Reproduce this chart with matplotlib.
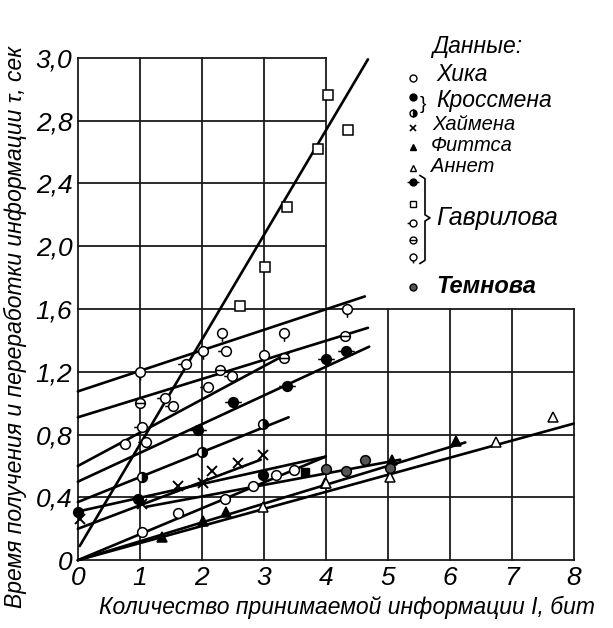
import numpy as np
import matplotlib
matplotlib.use("Agg")
import matplotlib.pyplot as plt
from matplotlib.path import Path

FONT = ['Liberation Sans', 'DejaVu Sans']
plt.rcParams['font.family'] = FONT
plt.rcParams['font.style'] = 'italic'

# ---- data: measured points (x = bits, y = seconds) ----
hick_x = [1.03, 1.62, 2.37, 2.83, 3.20, 3.48]
hick_y = [0.18, 0.30, 0.39, 0.47, 0.54, 0.575]
hick_line = ([0.0, 4.0], [0.0, 0.66])

cross_fill_x = [0.0, 0.97, 2.98]
cross_fill_y = [0.31, 0.39, 0.54]
cross_fill_line = ([0.0, 4.0], [0.31, 0.66])

cross_half_x = [1.03, 2.0, 2.98]
cross_half_y = [0.53, 0.69, 0.87]
cross_half_line = ([0.0, 3.4], [0.37, 0.91])

hyman_x = [0.03, 1.03, 1.61, 2.02, 2.16, 2.58, 2.98]
hyman_y = [0.26, 0.36, 0.47, 0.49, 0.57, 0.62, 0.67]
hyman_line = ([0.0, 2.95], [0.20, 0.64])

fitts_x = [1.35, 2.02, 2.39, 3.98, 5.06, 6.10]
fitts_y = [0.15, 0.25, 0.31, 0.49, 0.64, 0.76]
fitts_line = ([0.0, 6.25], [0.0, 0.75])

annet_x = [2.98, 4.01, 5.03, 6.75, 7.66]
annet_y = [0.34, 0.49, 0.53, 0.755, 0.91]
annet_line = ([0.0, 8.0], [0.0, 0.87])

gav_dot_x = [1.94, 2.50, 3.37, 4.01, 4.33]
gav_dot_y = [0.83, 1.01, 1.11, 1.28, 1.33]
gav_dot_line = ([0.0, 4.7], [0.50, 1.36])

gav_sq_x = [2.61, 3.02, 3.37, 3.87, 4.03, 4.35]
gav_sq_y = [1.62, 1.87, 2.25, 2.62, 2.96, 2.74]
gav_sq_line = ([0.03, 4.68], [0.09, 3.19])

gav_tick_x = [0.76, 1.03, 1.10, 1.40, 1.53, 1.75, 2.10, 2.39, 2.48]
gav_tick_y = [0.74, 0.85, 0.75, 1.03, 0.98, 1.25, 1.10, 1.33, 1.17]
gav_tick_line = ([0.0, 3.4], [0.60, 1.32])

gav_theta_x = [1.0, 2.29, 3.32, 4.31]
gav_theta_y = [1.0, 1.21, 1.29, 1.43]
gav_theta_line = ([0.0, 4.68], [0.91, 1.48])

gav_stem_x = [1.0, 2.02, 2.32, 3.0, 3.32, 4.34]
gav_stem_y = [1.20, 1.33, 1.45, 1.31, 1.45, 1.60]
gav_stem_line = ([0.0, 4.63], [1.075, 1.68])

temn_x = [4.01, 4.33, 4.63, 5.04]
temn_y = [0.58, 0.57, 0.635, 0.585]
temn_sq_x = [3.66]
temn_sq_y = [0.56]
temn_line = ([1.1, 5.2], [0.34, 0.64])

yticks = [0, 0.4, 0.8, 1.2, 1.6, 2.0, 2.4, 2.8, 3.2]
ytick_labels = ['0', '0,4', '0,8', '1,2', '1,6', '2,0', '2,4', '2,8', '3,0']
xticks = [0, 1, 2, 3, 4, 5, 6, 7, 8]
xtick_labels = [str(v) for v in xticks]

# ---- custom marker shapes (circle of radius 1 plus small strokes) ----
circ = Path.unit_circle()
m_theta = Path.make_compound_path(circ, Path([[-1, 0], [1, 0]]))
m_stem = Path.make_compound_path(circ, Path([[0, -1], [0, -1.7]]))
m_tick = Path.make_compound_path(circ, Path([[-1.7, 0], [-1, 0]]))
m_dot = Path.make_compound_path(circ, Path([[-1.7, 0], [-1, 0]]),
                                Path([[1, 0], [1.7, 0]]))
EXT = 1.7  # marker paths with strokes are scaled by this extent

fig = plt.figure(figsize=(6.13, 6.28), dpi=100)
ax = fig.add_axes([0.127, 0.108, 0.809, 0.8])
ax.set_xlim(0, 8)
ax.set_ylim(0, 3.2)
for s in ax.spines.values():
    s.set_visible(False)

# grid: full width below 1.6, only up to x=4 above it
gkw = dict(color='#1a1a1a', lw=1.3, zorder=1, clip_on=False)
for yv in [0, 0.4, 0.8, 1.2, 1.6]:
    ax.plot([0, 8], [yv, yv], **gkw)
for yv in [2.0, 2.4, 2.8, 3.2]:
    ax.plot([0, 4], [yv, yv], **gkw)
for xv in [0, 1, 2, 3, 4]:
    ax.plot([xv, xv], [0, 3.2], **gkw)
for xv in [5, 6, 7, 8]:
    ax.plot([xv, xv], [0, 1.6], **gkw)

ax.set_xticks(xticks)
ax.set_xticklabels(xtick_labels, fontstyle='italic', family=FONT)
ax.set_yticks(yticks)
ax.set_yticklabels(ytick_labels, fontstyle='italic', family=FONT)
ax.tick_params(length=0, labelsize=19, pad=4)

MS = 7
LKW = dict(color='black', lw=1.9, zorder=2, solid_capstyle='round', clip_on=False)
series = [
    (hick_line, hick_x, hick_y, dict(marker='o', mfc='white')),
    (cross_fill_line, cross_fill_x, cross_fill_y, dict(marker='o', mfc='black')),
    (cross_half_line, cross_half_x, cross_half_y,
     dict(marker='o', mfc='black', fillstyle='right', markerfacecoloralt='white')),
    (hyman_line, hyman_x, hyman_y, dict(marker='x', mew=1.4)),
    (fitts_line, fitts_x, fitts_y, dict(marker='^', mfc='black')),
    (annet_line, annet_x, annet_y, dict(marker='^', mfc='white')),
    (gav_dot_line, gav_dot_x, gav_dot_y, dict(marker=m_dot, mfc='black', ms=MS * EXT)),
    (gav_sq_line, gav_sq_x, gav_sq_y, dict(marker='s', mfc='white')),
    (gav_tick_line, gav_tick_x, gav_tick_y, dict(marker=m_tick, mfc='white', ms=MS * EXT)),
    (gav_theta_line, gav_theta_x, gav_theta_y, dict(marker=m_theta, mfc='white')),
    (gav_stem_line, gav_stem_x, gav_stem_y, dict(marker=m_stem, mfc='white', ms=MS * EXT)),
    (temn_line, temn_x, temn_y, dict(marker='o', mfc='#555555')),
]
for line, xs, ys, mk in series:
    ax.plot(line[0], line[1], **LKW)
    style = dict(ms=MS, mec='black', mew=1.1, ls='none', zorder=3, clip_on=False)
    style.update(mk)
    ax.plot(xs, ys, **style)
ax.plot(temn_sq_x, temn_sq_y, ls='none', marker='s', ms=6, mfc='black',
        mec='black', zorder=3)

# ---- key in the upper right ----
kx = 5.40
tx = 5.78
KS = 5
tkw = dict(fontsize=16.5, style='italic', va='center', ha='left', clip_on=False)
skw = dict(fontsize=14.5, style='italic', va='center', ha='left', clip_on=False)
ax.text(5.71, 3.27, 'Данные:', **tkw)
key_marks = [
    (3.07, dict(marker='o', mfc='white')),
    (2.95, dict(marker='o', mfc='black')),
    (2.85, dict(marker='o', mfc='black', fillstyle='right', markerfacecoloralt='white')),
    (2.75, dict(marker='x', mew=1.2)),
    (2.63, dict(marker='^', mfc='black')),
    (2.50, dict(marker='^', mfc='white')),
    (2.41, dict(marker=m_dot, mfc='black', ms=KS * EXT)),
    (2.27, dict(marker='s', mfc='white')),
    (2.15, dict(marker=m_tick, mfc='white', ms=KS * EXT)),
    (2.04, dict(marker=m_theta, mfc='white')),
    (1.93, dict(marker=m_stem, mfc='white', ms=KS * EXT)),
    (1.74, dict(marker='o', mfc='#555555')),
]
for yk, mk in key_marks:
    st = dict(ms=KS, mec='black', mew=1.0, ls='none', zorder=3, clip_on=False)
    st.update(mk)
    ax.plot([kx], [yk], **st)
ax.text(tx, 3.095, 'Хика', **tkw)
ax.text(5.52, 2.90, '}', fontsize=14, style='normal', va='center', ha='left',
        clip_on=False)
ax.text(tx, 2.925, 'Кроссмена', **tkw)
ax.text(5.72, 2.775, 'Хаймена', **skw)
ax.text(5.70, 2.64, 'Фиттса', **skw)
ax.text(5.70, 2.505, 'Аннет', **skw)
# brace for the Гаврилова group
bx = 5.60
ax.plot([bx - 0.08, bx, bx, bx + 0.08, bx, bx, bx - 0.08],
        [2.45, 2.43, 2.20, 2.18, 2.16, 1.91, 1.89],
        color='black', lw=1.2, clip_on=False)
ax.text(tx, 2.18, 'Гаврилова', fontsize=18, style='italic', va='center',
        ha='left', clip_on=False)
ax.text(tx, 1.74, 'Темнова', fontsize=17, style='italic', weight='bold',
        va='center', ha='left', clip_on=False)

fig.text(0.025, 0.479, 'Время получения и переработки информации τ, сек',
         rotation=90, fontsize=16.5, style='italic', ha='center', va='center')
fig.text(0.566, 0.033, 'Количество принимаемой информации I, бит',
         fontsize=16.5, style='italic', ha='center', va='center')

fig.savefig('out.png', dpi=100, facecolor='white')
